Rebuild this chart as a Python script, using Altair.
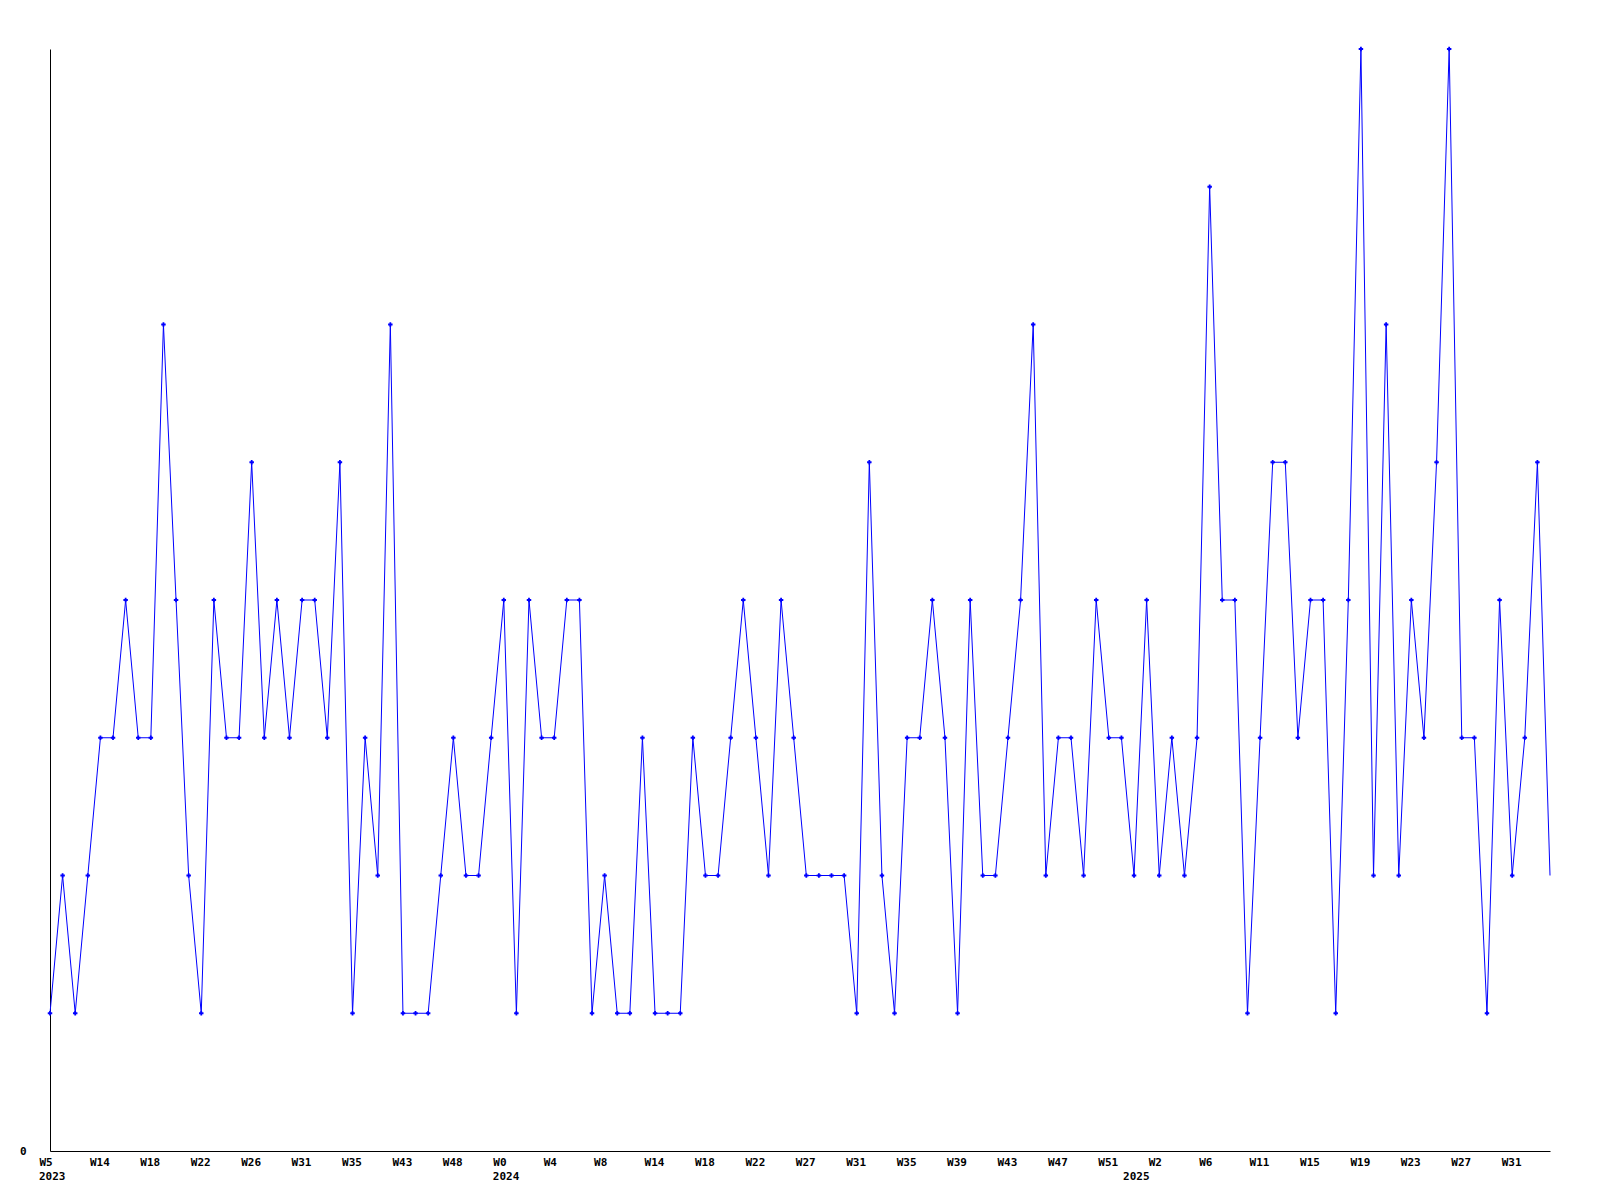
import altair as alt
import pandas as pd

values = [1, 2, 1, 2, 3, 3, 4, 3, 3, 6, 4, 2, 1, 4, 3, 3, 5, 3, 4, 3,
          4, 4, 3, 5, 1, 3, 2, 6, 1, 1, 1, 2, 3, 2, 2, 3, 4, 1, 4, 3,
          3, 4, 4, 1, 2, 1, 1, 3, 1, 1, 1, 3, 2, 2, 3, 4, 3, 2, 4, 3,
          2, 2, 2, 2, 1, 5, 2, 1, 3, 3, 4, 3, 1, 4, 2, 2, 3, 4, 6, 2,
          3, 3, 2, 4, 3, 3, 2, 4, 2, 3, 2, 3, 7, 4, 4, 1, 3, 5, 5, 3,
          4, 4, 1, 4, 8, 2, 6, 2, 4, 3, 5, 8, 3, 3, 1, 4, 2, 3, 5, 2]

tick_labels = ["W5", "W14", "W18", "W22", "W26", "W31", "W35", "W43", "W48", "W0",
               "W4", "W8", "W14", "W18", "W22", "W27", "W31", "W35", "W39", "W43",
               "W47", "W51", "W2", "W6", "W11", "W15", "W19", "W23", "W27", "W31"]
tick_step = 4

year_labels = ["2023", "2024", "2025"]
year_index = [0, 36, 86]

n = len(values)
df = pd.DataFrame({"idx": list(range(n)), "value": values})
df_pts = df.iloc[: n - 1]
df_years = pd.DataFrame({"idx": year_index, "label": year_labels})

tick_values = [i * tick_step for i in range(len(tick_labels))]
label_expr = "[" + ",".join("'" + t + "'" for t in tick_labels) + "][datum.value / %d]" % tick_step

W, H = 1500, 1102
FONT = "DejaVu Sans Mono"
BLUE = "#0000ff"

xscale = alt.Scale(domain=[0, n - 1], nice=False, zero=False)
yscale = alt.Scale(domain=[0, 8], nice=False, zero=True)

x_axis = alt.Axis(values=tick_values, labelExpr=label_expr, grid=False, ticks=False,
                  domainColor="black", domainWidth=1, labelFont=FONT, labelFontSize=11,
                  labelFontWeight="bold", labelColor="black", labelAlign="left",
                  labelOffset=-11, labelBaseline="top", labelPadding=5, title=None,
                  labelOverlap=False, labelFlush=False)
y_axis = alt.Axis(values=[0], format="d", grid=False, ticks=False, domainColor="black",
                  domainWidth=1, labelFont=FONT, labelFontSize=11, labelFontWeight="bold",
                  labelColor="black", labelPadding=24, title=None, labelBaseline="middle")

line = alt.Chart(df).mark_line(color=BLUE, strokeWidth=1).encode(
    x=alt.X("idx:Q", scale=xscale, axis=x_axis),
    y=alt.Y("value:Q", scale=yscale, axis=y_axis),
)
pts = alt.Chart(df_pts).mark_point(shape="cross", filled=True, size=20, color=BLUE, opacity=1).encode(
    x=alt.X("idx:Q", scale=xscale),
    y=alt.Y("value:Q", scale=yscale),
)
years = alt.Chart(df_years).mark_text(font=FONT, fontSize=11, fontWeight="bold", color="black",
                                      align="left", baseline="middle", dx=-11).encode(
    x=alt.X("idx:Q", scale=xscale),
    y=alt.value(H + 26),
    text="label:N",
)

chart = alt.layer(line, pts, years).properties(
    width=W, height=H,
    autosize=alt.AutoSizeParams(type="none"),
    padding={"left": 42, "top": 41, "right": 30, "bottom": 40},
    background="white",
).configure_view(strokeWidth=0, stroke="transparent")

chart.save("out.html", embed_options={"renderer": "svg", "actions": False})
